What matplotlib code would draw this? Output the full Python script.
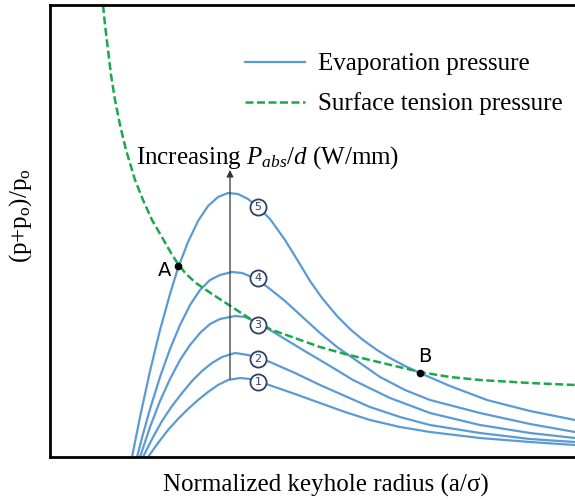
import matplotlib
matplotlib.use("Agg")
import matplotlib.pyplot as plt

plt.rcParams['font.family'] = ['Liberation Serif', 'DejaVu Serif']
plt.rcParams['mathtext.fontset'] = 'custom'
plt.rcParams['mathtext.rm'] = 'Liberation Serif'
plt.rcParams['mathtext.it'] = 'Liberation Serif:italic'

# values (arbitrary units, no ticks on the original)
tension_x = [0.53, 0.55, 0.58, 0.61, 0.65, 0.70, 0.76, 0.85, 0.93, 1.02, 1.13, 1.21, 1.28,
             1.36, 1.46, 1.62, 1.82, 2.02, 2.22, 2.42, 2.70, 2.95, 3.20, 3.45, 3.70, 4.00,
             4.30, 4.80, 5.25]
tension_y = [4.52, 4.32, 4.07, 3.82, 3.57, 3.32, 3.07, 2.77, 2.57, 2.37, 2.18, 2.04, 1.93,
             1.83, 1.74, 1.63, 1.50, 1.37, 1.27, 1.20, 1.10, 1.03, 0.97, 0.91, 0.85, 0.80,
             0.77, 0.74, 0.72]

evap5_x = [0.82, 0.90, 1.00, 1.10, 1.20, 1.28, 1.38, 1.48, 1.58, 1.68, 1.78, 1.88, 1.98,
           2.08, 2.20, 2.35, 2.48, 2.60, 2.72, 2.87, 3.00, 3.13, 3.27, 3.40, 3.55, 3.70,
           4.00, 4.37, 4.80, 5.25]
evap5_y = [0.00, 0.40, 0.86, 1.27, 1.63, 1.89, 2.15, 2.36, 2.51, 2.60, 2.64, 2.63, 2.58,
           2.50, 2.38, 2.17, 1.96, 1.76, 1.59, 1.41, 1.28, 1.17, 1.07, 0.99, 0.91, 0.84,
           0.71, 0.57, 0.46, 0.37]
evap4_x = [0.87, 0.93, 1.00, 1.10, 1.20, 1.30, 1.40, 1.50, 1.60, 1.70, 1.82, 1.92, 2.02,
           2.12, 2.20, 2.35, 2.47, 2.70, 2.87, 3.10, 3.30, 3.55, 3.80, 4.30, 4.80, 5.25]
evap4_y = [0.00, 0.23, 0.48, 0.80, 1.08, 1.32, 1.52, 1.67, 1.77, 1.82, 1.85, 1.84, 1.80,
           1.74, 1.68, 1.56, 1.45, 1.24, 1.10, 0.94, 0.80, 0.67, 0.57, 0.44, 0.33, 0.25]
evap3_x = [0.90, 1.00, 1.10, 1.20, 1.30, 1.40, 1.50, 1.60, 1.70, 1.85, 1.95, 2.08, 2.25,
           2.53, 2.80, 3.03, 3.40, 3.80, 4.30, 4.80, 5.25]
evap3_y = [0.00, 0.30, 0.56, 0.78, 0.97, 1.12, 1.24, 1.33, 1.38, 1.41, 1.40, 1.34, 1.24,
           1.07, 0.91, 0.77, 0.59, 0.44, 0.32, 0.24, 0.19]
evap2_x = [0.93, 1.02, 1.12, 1.22, 1.32, 1.42, 1.52, 1.62, 1.72, 1.85, 1.98, 2.08, 2.20,
           2.45, 2.70, 2.95, 3.20, 3.50, 3.80, 4.30, 4.80, 5.25]
evap2_y = [0.00, 0.18, 0.36, 0.51, 0.64, 0.76, 0.86, 0.94, 1.00, 1.04, 1.02, 0.99, 0.95,
           0.84, 0.72, 0.61, 0.50, 0.40, 0.32, 0.24, 0.18, 0.15]
evap1_x = [0.98, 1.08, 1.18, 1.28, 1.38, 1.48, 1.58, 1.68, 1.78, 1.90, 2.00, 2.10, 2.22,
           2.45, 2.70, 2.95, 3.20, 3.50, 3.80, 4.30, 4.80, 5.25]
evap1_y = [0.00, 0.14, 0.27, 0.38, 0.48, 0.57, 0.65, 0.72, 0.77, 0.79, 0.78, 0.75, 0.71,
           0.63, 0.54, 0.45, 0.37, 0.30, 0.25, 0.19, 0.15, 0.12]

evap_curves = [(evap1_x, evap1_y), (evap2_x, evap2_y), (evap3_x, evap3_y),
               (evap4_x, evap4_y), (evap5_x, evap5_y)]
circle_labels = ['1', '2', '3', '4', '5']
circle_x = 2.08
circle_y = [0.75, 0.98, 1.32, 1.79, 2.50]

point_a = (1.28, 1.91)
point_b = (3.70, 0.84)

blue = '#5b9bd5'
green = '#1aa84a'

fig = plt.figure(figsize=(5.75, 5.0), dpi=100)
ax = fig.add_axes([0.087, 0.086, 0.913, 0.904])

for i, (xs, ys) in enumerate(evap_curves):
    ax.plot(xs, ys, color=blue, lw=1.6, solid_joinstyle='round',
            label='Evaporation pressure' if i == 0 else None)
ax.plot(tension_x, tension_y, color=green, lw=1.8, ls=(0, (3.2, 1.4)),
        label='Surface tension pressure')

# arrow showing increasing absorbed power
ax.annotate('', xy=(1.80, 2.87), xytext=(1.80, 0.78),
            arrowprops=dict(arrowstyle='-|>', color='#333333', lw=0.9,
                            mutation_scale=10, shrinkA=0, shrinkB=0))
ax.text(2.18, 2.99, 'Increasing $P_{abs}/d$ (W/mm)', fontsize=18,
        ha='center', va='center')

# numbered circles on the curves
ax.scatter([circle_x] * 5, circle_y, s=135, facecolor='white',
           edgecolor='#2f3f66', lw=1.3, zorder=4)
for lab, cy in zip(circle_labels, circle_y):
    ax.text(circle_x, cy, lab, fontsize=8, ha='center', va='center',
            color='#2f3f66', family='DejaVu Sans', zorder=5)

# intersection points
ax.plot(*point_a, 'o', color='black', ms=4.5, zorder=5)
ax.plot(*point_b, 'o', color='black', ms=4.5, zorder=5)
ax.text(1.15, 1.87, 'A', fontsize=14, family='DejaVu Sans', ha='center', va='center')
ax.text(3.75, 1.00, 'B', fontsize=14, family='DejaVu Sans', ha='center', va='center')

ax.set_xlim(0, 5.25)
ax.set_ylim(0, 4.52)
ax.set_xticks([])
ax.set_yticks([])
for side in ['left', 'bottom', 'top']:
    ax.spines[side].set_linewidth(2)
    ax.spines[side].set_color('black')
ax.spines['right'].set_visible(False)

ax.set_xlabel('Normalized keyhole radius (a/σ)', fontsize=18, va='center')
ax.xaxis.set_label_coords(0.526, -0.062)
ax.set_ylabel('(p+p$_\\mathrm{o}$)/p$_\\mathrm{o}$', fontsize=18, va='center')
ax.yaxis.set_label_coords(-0.057, 0.535)

ax.legend(loc='upper left', bbox_to_anchor=(0.371, 0.894), frameon=False,
          fontsize=18, handlelength=2.4, handletextpad=0.52, labelspacing=0.68,
          borderpad=0, borderaxespad=0)

fig.savefig('out.png', dpi=100)
